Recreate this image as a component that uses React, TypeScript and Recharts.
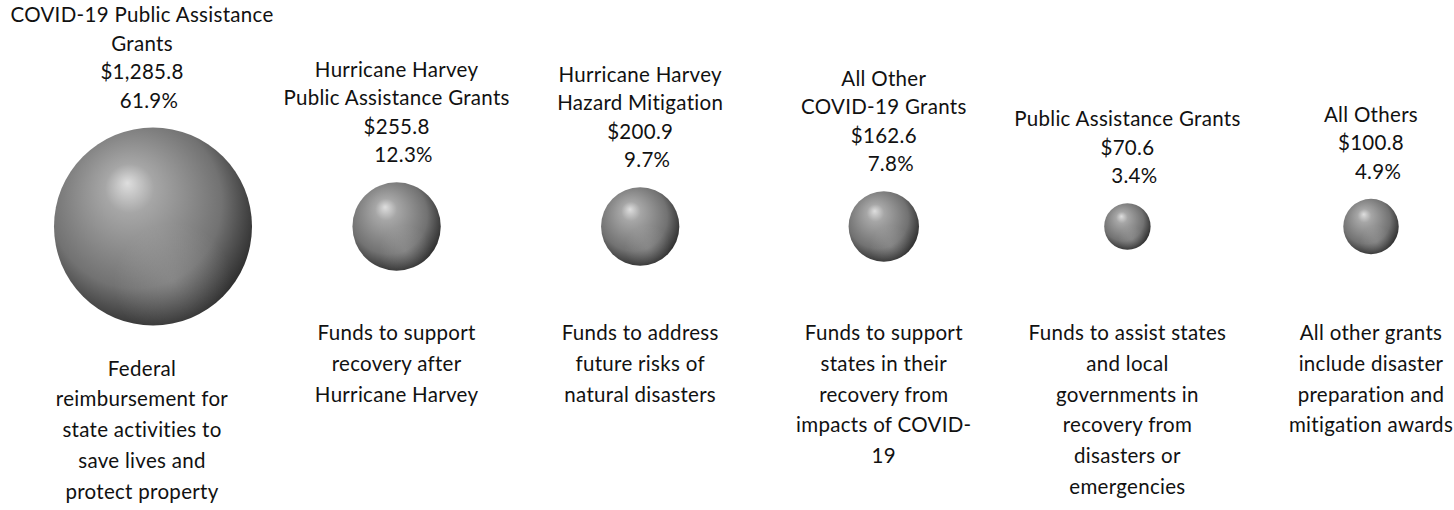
import React from 'react';
import { ScatterChart, Scatter, XAxis, YAxis, ZAxis } from 'recharts';

// grant categories, amounts in millions
const titles: string[][] = [
  ['COVID-19 Public Assistance', 'Grants'],
  ['Hurricane Harvey', 'Public Assistance Grants'],
  ['Hurricane Harvey', 'Hazard Mitigation'],
  ['All Other', 'COVID-19 Grants'],
  ['Public Assistance Grants'],
  ['All Others'],
];
const amounts = [1285.8, 255.8, 200.9, 162.6, 70.6, 100.8];
const descriptions: string[][] = [
  ['Federal', 'reimbursement for', 'state activities to', 'save lives and', 'protect property'],
  ['Funds to support', 'recovery after', 'Hurricane Harvey'],
  ['Funds to address', 'future risks of', 'natural disasters'],
  ['Funds to support', 'states in their', 'recovery from', 'impacts of COVID-', '19'],
  ['Funds to assist states', 'and local', 'governments in', 'recovery from', 'disasters or', 'emergencies'],
  ['All other grants', 'include disaster', 'preparation and', 'mitigation awards'],
];

const total = amounts.reduce((a, b) => a + b, 0);
const maxAmount = Math.max(...amounts);

const data = amounts.map((amount, i) => ({
  idx: i,
  row: 1,
  amount,
  title: titles[i],
  desc: descriptions[i],
  pct: ((amount / total) * 100).toFixed(1) + '%',
  label: '$' + amount.toLocaleString('en-US', { minimumFractionDigits: 1, maximumFractionDigits: 1 }),
}));

const FONT = 'Lato, "Open Sans", sans-serif';
const FS = 20.5;
const HEAD_LH = 28.5;
const DESC_LH = 30.8;

function Bubble(props: any) {
  const { cx, cy, width, payload } = props;
  const r = width / 2;
  const head = [...payload.title, payload.label, payload.pct];
  const lastBase = cy - r - 20;
  const descTop = Math.max(cy + r + 50, 340);
  // the first column's text sits a little left of its bubble
  const tx = payload.idx === 0 ? cx - 11 : cx;
  return (
    <g>
      <circle cx={cx} cy={cy} r={r} fill="url(#sphereBase)" />
      <circle cx={cx} cy={cy} r={r} fill="url(#sphereGlow)" />
      {head.map((t: string, i: number) => (
        <text
          key={'h' + i}
          x={tx + (i === head.length - 1 ? 7 : 0)}
          y={lastBase - (head.length - 1 - i) * HEAD_LH}
          textAnchor="middle"
          fontFamily={FONT}
          fontSize={FS}
          letterSpacing={0.3}
          fill="#111"
        >
          {t}
        </text>
      ))}
      {payload.desc.map((t: string, i: number) => (
        <text
          key={'d' + i}
          x={tx}
          y={descTop + i * DESC_LH}
          textAnchor="middle"
          fontFamily={FONT}
          fontSize={FS}
          letterSpacing={0.3}
          fill="#111"
        >
          {t}
        </text>
      ))}
    </g>
  );
}

export default function App() {
  return (
    <div style={{ position: 'absolute', left: 0, top: 0, width: 1454, height: 510, background: '#fff' }}>
      <ScatterChart width={1454} height={510} margin={{ top: 0, right: 83, bottom: 57, left: 153 }}>
        <defs>
          <radialGradient id="sphereBase" cx="43%" cy="42%" r="62%" fx="37%" fy="28%">
            <stop offset="0%" stopColor="#dedede" />
            <stop offset="20%" stopColor="#a6a6a6" />
            <stop offset="45%" stopColor="#8c8c8c" />
            <stop offset="70%" stopColor="#727272" />
            <stop offset="85%" stopColor="#4e4e4e" />
            <stop offset="100%" stopColor="#2a2a2a" />
          </radialGradient>
          <radialGradient id="sphereGlow" cx="60%" cy="78%" r="30%">
            <stop offset="0%" stopColor="#ffffff" stopOpacity={0.15} />
            <stop offset="100%" stopColor="#ffffff" stopOpacity={0} />
          </radialGradient>
        </defs>
        <XAxis type="number" dataKey="idx" domain={[0, amounts.length - 1]} hide />
        <YAxis type="number" dataKey="row" domain={[0, 2]} hide />
        <ZAxis type="number" dataKey="amount" domain={[0, maxAmount]} range={[0, Math.PI * 99 * 99]} />
        <Scatter data={data} shape={<Bubble />} isAnimationActive={false} />
      </ScatterChart>
    </div>
  );
}
